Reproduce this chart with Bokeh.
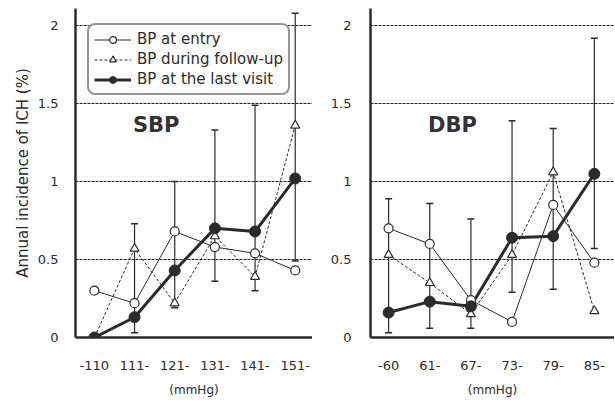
from bokeh.plotting import figure
from bokeh.layouts import row
from bokeh.models import (Range1d, FixedTicker, Legend, LegendItem, Whisker,
                          ColumnDataSource, TeeHead, Label)
from bokeh.embed import file_html
from bokeh.resources import INLINE

# ---- data ----
sbp_cats = ["-110", "111-", "121-", "131-", "141-", "151-"]
sbp_entry = [0.30, 0.22, 0.68, 0.58, 0.54, 0.43]
sbp_follow = [0.00, 0.57, 0.22, 0.65, 0.39, 1.36]
sbp_last = [0.00, 0.13, 0.43, 0.70, 0.68, 1.02]
sbp_last_lo = [None, 0.03, 0.19, 0.36, 0.30, 0.49]
sbp_last_hi = [None, 0.73, 1.00, 1.33, 1.49, 2.08]

dbp_cats = ["-60", "61-", "67-", "73-", "79-", "85-"]
dbp_entry = [0.70, 0.60, 0.24, 0.10, 0.85, 0.48]
dbp_follow = [0.53, 0.35, 0.15, 0.53, 1.06, 0.17]
dbp_last = [0.16, 0.23, 0.20, 0.64, 0.65, 1.05]
dbp_last_lo = [0.03, 0.06, 0.06, 0.29, 0.31, 0.57]
dbp_last_hi = [0.89, 0.86, 0.76, 1.39, 1.34, 1.92]

y_ticks = [0, 0.5, 1, 1.5, 2]
y_tick_labels = ["0", "0.5", "1", "1.5", "2"]

INK = "#2b2b2b"
FONT = "DejaVu Sans"
H = 400


def make_panel(cats, entry, follow, last, lo, hi, title, width, border_left,
               border_right, xr, ytick_standoff, ylabel=None, legend=False):
    xs = list(range(len(cats)))
    p = figure(width=width, height=H, output_backend="svg", toolbar_location=None,
               x_range=Range1d(*xr), y_range=Range1d(0, 2.11),
               min_border_left=border_left, min_border_right=border_right,
               min_border_top=8, min_border_bottom=63)
    p.outline_line_color = None
    p.background_fill_color = "white"
    p.xgrid.grid_line_color = None
    p.ygrid.grid_line_color = "#222222"
    p.ygrid.grid_line_dash = "3 1"
    p.ygrid.grid_line_width = 1.1
    p.ygrid.ticker = FixedTicker(ticks=[0.5, 1, 1.5, 2])

    p.xaxis.ticker = FixedTicker(ticks=xs)
    p.xaxis.major_label_overrides = {i: c for i, c in enumerate(cats)}
    p.yaxis.ticker = FixedTicker(ticks=y_ticks)
    p.yaxis.major_label_overrides = {t: l for t, l in zip(y_ticks, y_tick_labels)}
    for ax in (p.xaxis[0], p.yaxis[0]):
        ax.major_tick_line_color = None
        ax.minor_tick_line_color = None
        ax.axis_line_color = INK
        ax.axis_line_width = 2.5
        ax.major_label_text_font = FONT
        ax.major_label_text_font_size = "13px"
        ax.major_label_text_color = INK
        ax.axis_label_text_font = FONT
        ax.axis_label_text_font_style = "normal"
        ax.axis_label_text_color = INK
    p.xaxis.major_label_standoff = 17
    p.xaxis.axis_label = "(mmHg)"
    p.xaxis.axis_label_text_font_size = "12px"
    p.xaxis.axis_label_standoff = 10
    p.yaxis.major_label_standoff = ytick_standoff
    if ylabel:
        p.yaxis.axis_label = ylabel
        p.yaxis.axis_label_text_font_size = "15px"
        p.yaxis.axis_label_standoff = 3

    # error bars (last visit)
    ex = [x for x, l in zip(xs, lo) if l is not None]
    el = [l for l in lo if l is not None]
    eh = [h for l, h in zip(lo, hi) if l is not None]
    src = ColumnDataSource(dict(x=ex, lo=el, hi=eh))
    w = Whisker(source=src, base="x", lower="lo", upper="hi", line_color=INK,
                line_width=1.2,
                upper_head=TeeHead(size=7, line_color=INK, line_width=1.5),
                lower_head=TeeHead(size=7, line_color=INK, line_width=1.5))
    p.add_layout(w)

    r1l = p.line(xs, entry, line_color=INK, line_width=1)
    r2l = p.line(xs, follow, line_color=INK, line_width=1, line_dash="3 2")
    r3l = p.line(xs, last, line_color=INK, line_width=3)
    r1m = p.scatter(xs, entry, marker="circle", size=9, fill_color="white",
                    line_color=INK, line_width=1.2)
    r2m = p.scatter(xs, follow, marker="triangle", size=9, fill_color="white",
                    line_color=INK, line_width=1.2)
    r3m = p.scatter(xs, last, marker="circle", size=11, fill_color=INK,
                    line_color=INK)

    p.add_layout(Label(x=0.96, y=1.36, text=title, text_font=FONT,
                       text_font_size="21px", text_font_style="bold",
                       text_color="#333333", text_baseline="middle"))

    if legend:
        lg = Legend(items=[
            LegendItem(label="BP at entry", renderers=[r1l, r1m]),
            LegendItem(label="BP during follow-up", renderers=[r2l, r2m]),
            LegendItem(label="BP at the last visit", renderers=[r3l, r3m]),
        ], location=(12, 242))
        lg.label_text_font = FONT
        lg.label_text_font_size = "15px"
        lg.label_text_color = INK
        lg.label_height = 17
        lg.glyph_height = 17
        lg.glyph_width = 37
        lg.spacing = 2
        lg.padding = 5
        lg.margin = 0
        lg.label_standoff = 6
        lg.border_line_color = INK
        lg.border_line_width = 2
        lg.background_fill_alpha = 1
        if "border_radius" in lg.properties():
            lg.border_radius = 8
        p.add_layout(lg)
    return p


left = make_panel(sbp_cats, sbp_entry, sbp_follow, sbp_last, sbp_last_lo,
                  sbp_last_hi, "SBP", 312, 75, 0, (-0.47, 5.43), 11,
                  ylabel="Annual incidence of ICH (%)", legend=True)
right = make_panel(dbp_cats, dbp_entry, dbp_follow, dbp_last, dbp_last_lo,
                   dbp_last_hi, "DBP", 302, 58, 0, (-0.44, 5.49), 13)

layout = row(left, right)
open("out.html", "w").write(file_html(layout, INLINE))
